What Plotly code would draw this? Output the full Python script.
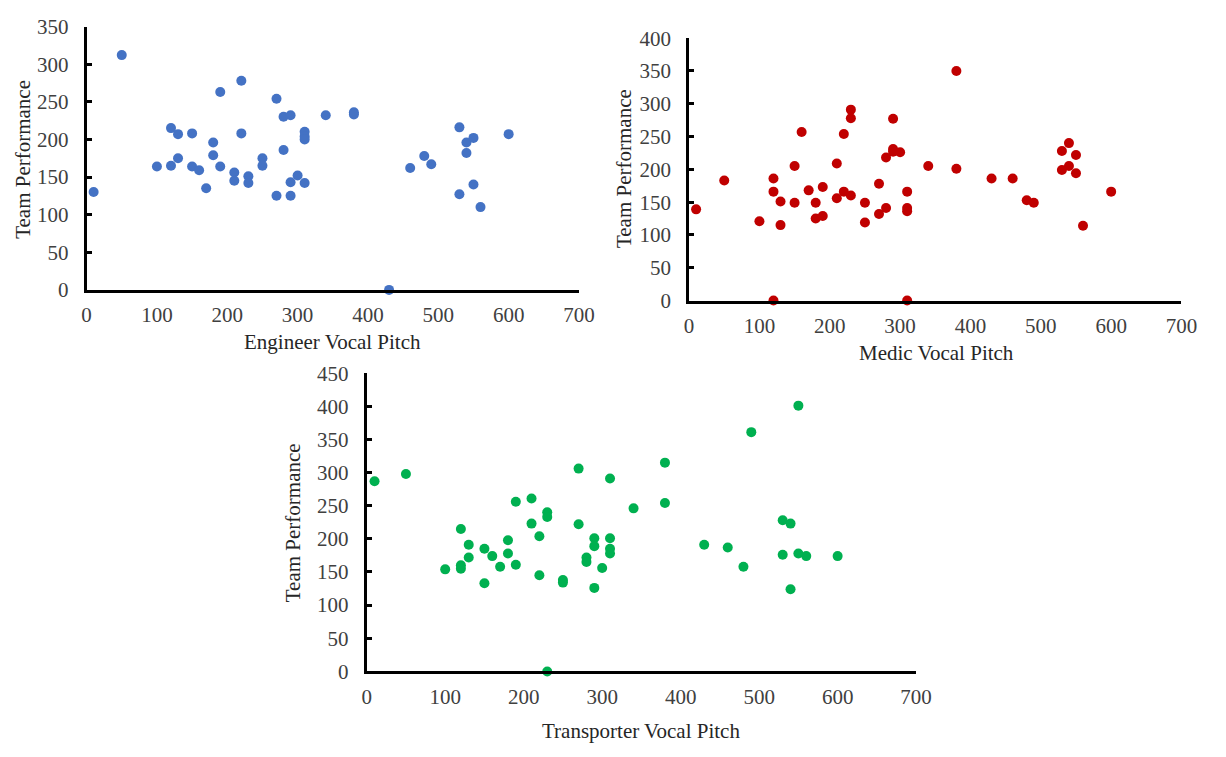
import plotly.graph_objects as go

# Engineer panel
eng_pitch = [10, 50, 100, 120, 120, 130, 130, 150, 150, 160, 170, 180, 180, 190, 190,
             210, 210, 220, 220, 230, 230, 250, 250, 270, 270, 280, 280, 290, 290, 290,
             300, 310, 310, 310, 310, 340, 380, 380, 430, 460, 480, 490, 530, 530, 540,
             540, 550, 550, 560, 600]
eng_perf = [130, 312, 164, 215, 165, 207, 175, 208, 164, 159, 135, 196, 179, 263, 164,
            156, 145, 278, 208, 151, 142, 175, 165, 254, 125, 230, 186, 232, 143, 125,
            152, 210, 204, 200, 142, 232, 236, 233, 0, 162, 178, 167, 216, 127, 196,
            182, 202, 140, 110, 207]

# Medic panel
med_pitch = [10, 50, 100, 120, 120, 120, 130, 130, 150, 150, 160, 170, 180, 180, 190,
             190, 210, 210, 220, 220, 230, 230, 230, 250, 250, 270, 270, 280, 280, 290,
             290, 290, 300, 310, 310, 310, 310, 340, 380, 380, 430, 460, 480, 490, 530,
             530, 540, 540, 550, 550, 560, 600]
med_perf = [139, 183, 121, 186, 166, 0, 151, 115, 205, 149, 257, 168, 149, 125, 173,
            129, 209, 156, 254, 166, 291, 278, 160, 149, 119, 178, 132, 218, 141, 277,
            231, 227, 226, 166, 141, 136, 0, 205, 350, 201, 186, 186, 153, 149, 228,
            199, 240, 205, 222, 194, 114, 166]

# Transporter panel
tra_pitch = [10, 50, 100, 120, 120, 120, 130, 130, 150, 150, 160, 170, 180, 180, 190,
             190, 210, 210, 220, 220, 230, 230, 230, 250, 250, 270, 270, 280, 280, 290,
             290, 290, 300, 310, 310, 310, 310, 340, 380, 380, 430, 460, 480, 490, 530,
             530, 540, 540, 550, 550, 560, 600]
tra_perf = [287, 298, 154, 215, 160, 155, 191, 172, 185, 133, 174, 158, 198, 178, 256,
            161, 261, 223, 204, 145, 240, 233, 0, 138, 134, 306, 222, 172, 165, 201,
            189, 126, 156, 291, 201, 185, 178, 246, 315, 254, 191, 187, 158, 361, 228,
            176, 223, 124, 401, 178, 174, 174]

x_ticks = [0, 100, 200, 300, 400, 500, 600, 700]

W, H = 1226, 757
TICK_FONT = dict(family="Liberation Serif", size=21, color="#404040")
TITLE_FONT = dict(family="Liberation Serif", size=21, color="#262626")

# (pitch, perf, colour, x-axis title, pixel box [left, right, bottom, top], y max, title positions)
panels = [
    (eng_pitch, eng_perf, "#4472C4", "Engineer Vocal Pitch", (83, 584, 287, 15), 350,
     (333, 341), (18, 152)),
    (med_pitch, med_perf, "#C00000", "Medic Vocal Pitch", (696, 1197, 298, 27), 400,
     (948, 352), (630, 162)),
    (tra_pitch, tra_perf, "#00B050", "Transporter Vocal Pitch", (368, 927, 681, 373), 450,
     (647, 743), (293, 527)),
]

fig = go.Figure()
annotations = []
for i, (px, py, col, xtitle, box, ymax, xt_pos, yt_pos) in enumerate(panels, start=1):
    xa = "x" if i == 1 else f"x{i}"
    ya = "y" if i == 1 else f"y{i}"
    fig.add_trace(go.Scatter(
        x=px, y=py, mode="markers", xaxis=xa, yaxis=ya, showlegend=False,
        marker=dict(color=col, size=10, line=dict(width=0)), cliponaxis=False,
    ))
    left, right, bottom, top = box
    xkey = "xaxis" if i == 1 else f"xaxis{i}"
    ykey = "yaxis" if i == 1 else f"yaxis{i}"
    fig.layout[xkey] = dict(
        domain=[left / W, right / W], range=[0, 700], anchor=ya,
        tickvals=x_ticks, ticktext=[str(v) for v in x_ticks],
        showgrid=False, zeroline=False, showline=True, linecolor="black", linewidth=3,
        ticks="", tickfont=TICK_FONT, ticklabelstandoff=4, fixedrange=True,
    )
    yvals = list(range(0, ymax + 1, 50))
    fig.layout[ykey] = dict(
        domain=[1 - bottom / H, 1 - top / H], range=[0, ymax], anchor=xa,
        tickvals=yvals, ticktext=[str(v) for v in yvals],
        showgrid=False, zeroline=False, showline=True, linecolor="black", linewidth=3,
        ticks="inside", ticklen=5, tickwidth=3, tickcolor="black",
        tickfont=TICK_FONT, ticklabelstandoff=11, fixedrange=True,
    )
    annotations.append(dict(
        text=xtitle, x=xt_pos[0] / W, y=1 - xt_pos[1] / H, xref="paper", yref="paper",
        showarrow=False, font=TITLE_FONT, xanchor="center", yanchor="middle",
    ))
    annotations.append(dict(
        text="Team Performance", x=yt_pos[0] / W, y=1 - yt_pos[1] / H, xref="paper",
        yref="paper", showarrow=False, font=TITLE_FONT, textangle=-90,
        xanchor="center", yanchor="middle",
    ))

fig.update_layout(
    width=W, height=H, margin=dict(l=0, r=0, t=0, b=0),
    paper_bgcolor="white", plot_bgcolor="white", annotations=annotations,
)

fig.write_html("out.html", config={"displayModeBar": False})
